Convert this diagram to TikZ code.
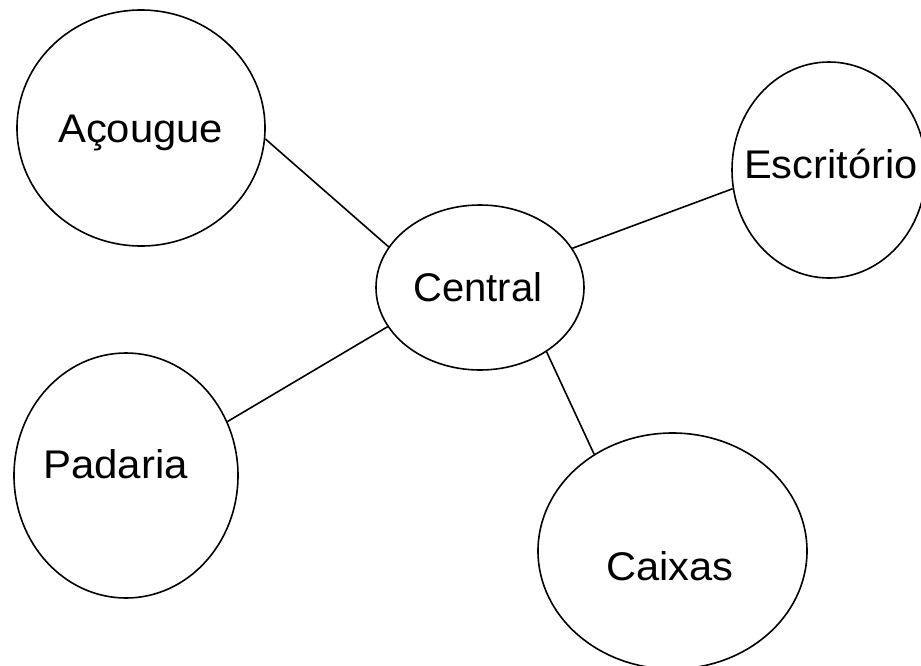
\documentclass[tikz,border=0pt]{standalone}
\usepackage{fontspec}
\setmainfont{Liberation Sans}
\usetikzlibrary{shapes.geometric}
\begin{document}
\begin{tikzpicture}[x=1pt,y=-1pt,
  room/.style={draw=black,line width=1.6pt,ellipse,inner sep=0pt},
  tag/.style={anchor=base west,inner sep=0pt,font=\fontsize{40}{40}\selectfont},
  link/.style={draw=black,line width=1.6pt}]
\useasboundingbox (0,0) rectangle (921,665);
\clip (0,0) rectangle (921,665);
\fill[white] (0,0) rectangle (921,665);
% sectors
\node[room,minimum width=248pt,minimum height=236pt] (acougue) at (141,128) {};
\node[room,minimum width=194pt,minimum height=216pt] (escritorio) at (829,170) {};
\node[room,minimum width=208pt,minimum height=165pt] (central) at (480,287.5) {};
\node[room,minimum width=224pt,minimum height=245pt] (padaria) at (126,475.5) {};
\node[room,minimum width=269pt,minimum height=236pt] (caixas) at (672.5,551) {};
% labels (slightly widened lettering)
\node[tag] (tA) at (58,142) {\scalebox{1.045}[1]{Açougue}};
\node[tag] (tE) at (744,178) {\scalebox{1.04}[1]{Escritório}};
\node[tag] (tC) at (413,301) {Central};
\node[tag] (tP) at (43,478) {\scalebox{1.05}[1]{Padaria}};
\node[tag] (tX) at (606,580) {\scalebox{1.04}[1]{Caixas}};
% connections to the central hub
\draw[link] (acougue.-5.5) -- (central.156.5);
\draw[link] (escritorio.191.8) -- (central.23);
\draw[link] (padaria.28.5) -- (central.203);
\draw[link] (caixas.129) -- (central.-44);
\end{tikzpicture}
\end{document}
